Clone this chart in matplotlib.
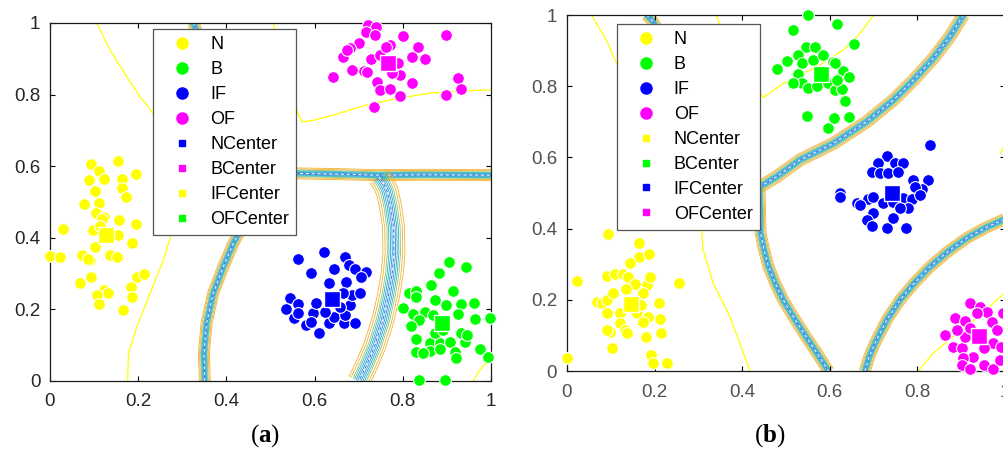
import matplotlib
matplotlib.use("Agg")
import matplotlib.pyplot as plt
import numpy as np
from matplotlib.lines import Line2D

plt.rcParams['font.family'] = ['Liberation Sans', 'DejaVu Sans']
plt.rcParams['mathtext.fontset'] = 'custom'
plt.rcParams['mathtext.rm'] = 'Liberation Serif'
plt.rcParams['mathtext.bf'] = 'Liberation Serif:bold'

YEL, GRN, BLU, MAG = '#FFFF00', '#00FF00', '#0000FF', '#FF00FF'

# ---------------- panel (a) data ----------------
a_N_x = [0.093, 0.155, 0.110, 0.089, 0.123, 0.195, 0.163, 0.102, 0.163, 0.172, 0.078, 0.110, 0.104, 0.123,
         0.117, 0.157, 0.098, 0.113, 0.195, 0.029, 0.155, 0.187, 0.102, 0.136, 0.151, 0.000, 0.023, 0.072,
         0.091, 0.197, 0.213, 0.094, 0.067, 0.184, 0.123, 0.132, 0.106, 0.185, 0.110, 0.165, 0.087]
a_N_y = [0.605, 0.615, 0.587, 0.561, 0.564, 0.578, 0.564, 0.532, 0.538, 0.515, 0.493, 0.498, 0.468, 0.459,
         0.452, 0.450, 0.422, 0.433, 0.439, 0.424, 0.408, 0.385, 0.373, 0.352, 0.345, 0.350, 0.347, 0.352,
         0.338, 0.290, 0.299, 0.291, 0.273, 0.262, 0.254, 0.247, 0.240, 0.234, 0.215, 0.198, 0.340]
a_B_x = [0.905, 0.943, 0.883, 0.865, 0.913, 0.815, 0.831, 0.830, 0.873, 0.899, 0.933, 0.961, 0.801, 0.824,
         0.850, 0.837, 0.818, 0.869, 0.926, 0.964, 0.998, 0.830, 0.862, 0.884, 0.907, 0.941, 0.931, 0.945,
         0.831, 0.862, 0.884, 0.918, 0.921, 0.975, 0.994, 0.837, 0.896, 0.873, 0.892, 0.847]
a_B_y = [0.331, 0.319, 0.301, 0.268, 0.252, 0.247, 0.252, 0.236, 0.226, 0.212, 0.215, 0.219, 0.203, 0.187,
         0.194, 0.169, 0.154, 0.184, 0.187, 0.172, 0.175, 0.116, 0.105, 0.107, 0.110, 0.110, 0.133, 0.128,
         0.082, 0.085, 0.088, 0.082, 0.063, 0.088, 0.066, 0.003, 0.003, 0.133, 0.142, 0.077]
a_IF_x = [0.563, 0.621, 0.669, 0.591, 0.644, 0.679, 0.692, 0.717, 0.705, 0.633, 0.671, 0.544, 0.563, 0.535,
          0.553, 0.562, 0.580, 0.596, 0.603, 0.591, 0.611, 0.633, 0.644, 0.667, 0.692, 0.669, 0.680, 0.686,
          0.703, 0.665, 0.658, 0.624]
a_IF_y = [0.340, 0.361, 0.347, 0.301, 0.312, 0.324, 0.312, 0.304, 0.290, 0.273, 0.277, 0.233, 0.215, 0.200,
          0.175, 0.189, 0.156, 0.191, 0.219, 0.166, 0.133, 0.161, 0.180, 0.163, 0.161, 0.184, 0.212, 0.240,
          0.245, 0.245, 0.208, 0.194]
a_OF_x = [0.722, 0.739, 0.717, 0.737, 0.701, 0.680, 0.665, 0.686, 0.711, 0.718, 0.729, 0.748, 0.771, 0.801,
          0.835, 0.850, 0.820, 0.790, 0.794, 0.741, 0.748, 0.771, 0.794, 0.822, 0.641, 0.735, 0.897, 0.926,
          0.933, 0.898, 0.673, 0.775, 0.763]
a_OF_y = [0.995, 0.990, 0.976, 0.966, 0.943, 0.929, 0.904, 0.869, 0.867, 0.864, 0.899, 0.911, 0.939, 0.964,
          0.934, 0.899, 0.904, 0.887, 0.855, 0.836, 0.813, 0.817, 0.796, 0.831, 0.850, 0.766, 0.966, 0.845,
          0.815, 0.799, 0.925, 0.859, 0.934]
a_cx = [0.127, 0.890, 0.639, 0.766]
a_cy = [0.408, 0.163, 0.228, 0.888]

# decision boundaries of panel (a)
a_band1_x = [0.351, 0.349, 0.355, 0.370, 0.393, 0.416, 0.440, 0.480, 0.520, 0.556, 0.650, 0.740, 0.850, 1.000]
a_band1_y = [0.000, 0.077, 0.161, 0.245, 0.319, 0.385, 0.440, 0.520, 0.570, 0.580, 0.578, 0.575, 0.576, 0.575]
a_band2_x = [0.325, 0.335, 0.380, 0.450, 0.500]
a_band2_y = [1.000, 0.970, 0.800, 0.650, 0.590]
a_band3_x = [0.746, 0.756, 0.765, 0.772, 0.779, 0.780, 0.776, 0.768, 0.755, 0.737, 0.720, 0.701]
a_band3_y = [0.570, 0.553, 0.528, 0.490, 0.430, 0.357, 0.300, 0.240, 0.170, 0.100, 0.050, 0.000]
a_thin1_x = [0.106, 0.136, 0.174, 0.204, 0.234, 0.250, 0.280, 0.276, 0.257, 0.227, 0.197, 0.178, 0.176]
a_thin1_y = [1.000, 0.925, 0.850, 0.794, 0.748, 0.650, 0.500, 0.412, 0.338, 0.245, 0.152, 0.077, 0.000]
a_thin2_x = [0.506, 0.510, 0.520, 0.545, 0.556, 0.571, 0.593, 0.643, 0.718, 0.794, 0.869, 0.945, 1.000]
a_thin2_y = [1.000, 0.980, 0.900, 0.800, 0.766, 0.724, 0.727, 0.743, 0.771, 0.791, 0.805, 0.811, 0.813]
a_thin3_x = [0.960, 0.975, 0.998]
a_thin3_y = [0.000, 0.031, 0.063]

# ---------------- panel (b) data ----------------
b_N_x = [0.093, 0.165, 0.165, 0.188, 0.144, 0.022, 0.256, 0.091, 0.110, 0.127, 0.140, 0.155, 0.182, 0.189,
         0.068, 0.079, 0.091, 0.106, 0.135, 0.174, 0.211, 0.091, 0.121, 0.159, 0.186, 0.212, 0.121, 0.132,
         0.098, 0.091, 0.136, 0.174, 0.180, 0.215, 0.102, 0.192, 0.196, 0.228, 0.000, 0.170]
b_N_y = [0.384, 0.359, 0.319, 0.329, 0.304, 0.254, 0.248, 0.267, 0.272, 0.272, 0.265, 0.244, 0.242, 0.265,
         0.195, 0.190, 0.199, 0.220, 0.229, 0.218, 0.190, 0.162, 0.162, 0.162, 0.153, 0.145, 0.136, 0.115,
         0.110, 0.115, 0.108, 0.139, 0.096, 0.108, 0.066, 0.045, 0.023, 0.022, 0.037, 0.185]
b_B_x = [0.551, 0.616, 0.517, 0.656, 0.546, 0.566, 0.528, 0.503, 0.479, 0.536, 0.562, 0.584, 0.607, 0.631,
         0.645, 0.528, 0.536, 0.551, 0.570, 0.597, 0.612, 0.629, 0.635, 0.549, 0.610, 0.645, 0.597, 0.612,
         0.517, 0.616]
b_B_y = [1.000, 0.975, 0.958, 0.918, 0.909, 0.911, 0.888, 0.872, 0.847, 0.864, 0.875, 0.888, 0.869, 0.844,
         0.825, 0.834, 0.810, 0.794, 0.801, 0.810, 0.789, 0.791, 0.759, 0.716, 0.710, 0.714, 0.682, 0.864,
         0.808, 0.817]
b_IF_x = [0.829, 0.730, 0.711, 0.749, 0.768, 0.696, 0.715, 0.734, 0.756, 0.791, 0.825, 0.623, 0.623, 0.688,
          0.661, 0.669, 0.699, 0.722, 0.745, 0.768, 0.787, 0.810, 0.795, 0.807, 0.699, 0.684, 0.696, 0.730,
          0.744, 0.773, 0.779, 0.760]
b_IF_y = [0.635, 0.604, 0.585, 0.583, 0.585, 0.560, 0.557, 0.557, 0.560, 0.537, 0.537, 0.499, 0.488, 0.482,
          0.471, 0.466, 0.490, 0.473, 0.476, 0.485, 0.482, 0.510, 0.518, 0.494, 0.445, 0.424, 0.407, 0.401,
          0.429, 0.403, 0.457, 0.457]
b_OF_x = [0.920, 0.943, 0.958, 0.996, 0.886, 0.909, 0.935, 0.863, 0.882, 0.901, 0.909, 0.970, 0.981, 0.973,
          0.951, 0.928, 0.905, 0.901, 0.920, 0.951, 0.972, 0.989, 0.992, 0.890, 0.920]
b_OF_y = [0.190, 0.181, 0.167, 0.162, 0.148, 0.141, 0.162, 0.101, 0.068, 0.064, 0.096, 0.139, 0.115, 0.078,
          0.064, 0.040, 0.036, 0.017, 0.005, 0.017, 0.007, 0.031, 0.068, 0.115, 0.120]
b_cx = [0.146, 0.581, 0.741, 0.941]
b_cy = [0.188, 0.834, 0.501, 0.098]

# decision boundaries of panel (b)
b_band1_x = [0.905, 0.874, 0.836, 0.791, 0.745, 0.684, 0.608, 0.532, 0.479, 0.441, 0.400]
b_band1_y = [1.000, 0.939, 0.878, 0.817, 0.761, 0.700, 0.639, 0.593, 0.546, 0.518, 0.505]
b_band2_x = [0.439, 0.440, 0.442, 0.450, 0.460, 0.476, 0.494, 0.518, 0.546, 0.572, 0.597]
b_band2_y = [0.515, 0.490, 0.387, 0.340, 0.293, 0.245, 0.199, 0.150, 0.096, 0.048, 0.000]
b_band3_x = [0.182, 0.197, 0.220, 0.300, 0.400]
b_band3_y = [1.000, 0.981, 0.930, 0.700, 0.510]
b_band4_x = [0.680, 0.690, 0.703, 0.730, 0.760, 0.795, 0.829, 0.870, 0.912, 0.955, 0.998]
b_band4_y = [0.000, 0.040, 0.078, 0.143, 0.199, 0.250, 0.293, 0.336, 0.373, 0.402, 0.426]
b_thin1_x = [0.056, 0.090, 0.113, 0.200, 0.300, 0.307, 0.311, 0.334, 0.372, 0.400, 0.418]
b_thin1_y = [1.000, 0.930, 0.864, 0.700, 0.450, 0.396, 0.340, 0.246, 0.153, 0.060, 0.000]
b_thin2_x = [0.342, 0.349, 0.400, 0.430, 0.437, 0.448, 0.494, 0.532, 0.578, 0.631, 0.669, 0.700]
b_thin2_y = [1.000, 0.972, 0.880, 0.800, 0.794, 0.768, 0.808, 0.831, 0.860, 0.902, 0.948, 1.000]
b_thin3_x = [0.802, 0.836, 0.890, 0.935, 0.998]
b_thin3_y = [0.000, 0.050, 0.106, 0.148, 0.218]
b_thin4_x = [0.990, 1.000]
b_thin4_y = [0.612, 0.640]

labels = ['N', 'B', 'IF', 'OF', 'NCenter', 'BCenter', 'IFCenter', 'OFCenter']
a_legend_colors = [YEL, GRN, BLU, MAG, BLU, MAG, YEL, GRN]
b_legend_colors = [YEL, GRN, BLU, MAG, YEL, GRN, BLU, MAG]

band_offsets = [1.0, 0.8, 0.6, 0.45, 0.3, 0.15]
band_colors = ['#F2B134', '#F2B134', '#93C46A', '#35B8C0', '#21A6CC', '#2C90D6']


def offset(ax, xs, ys, d):
    pts = ax.transData.transform(np.column_stack([xs, ys]))
    t = np.gradient(pts, axis=0)
    n = np.column_stack([-t[:, 1], t[:, 0]])
    n /= np.linalg.norm(n, axis=1)[:, None]
    return ax.transData.inverted().transform(pts + d * n)


def band(ax, xs, ys, half):
    for f, c in zip(band_offsets, band_colors):
        for s in (1, -1):
            p = offset(ax, xs, ys, s * f * half)
            ax.plot(p[:, 0], p[:, 1], color=c, lw=0.6, zorder=1)
    ax.plot(xs, ys, color='#2C86D6', lw=0.8, zorder=1)
    ax.plot(xs, ys, color='white', lw=0.7, ls=(0, (3, 3)), zorder=1)


def thin(ax, xs, ys):
    ax.plot(xs, ys, color=YEL, lw=0.9, zorder=1)


def setup(ax, tickcolor):
    ax.set_xlim(0, 1)
    ax.set_ylim(0, 1)
    ax.set_xticks([0, 0.2, 0.4, 0.6, 0.8, 1])
    ax.set_yticks([0, 0.2, 0.4, 0.6, 0.8, 1])
    ax.set_xticklabels(['0', '0.2', '0.4', '0.6', '0.8', '1'])
    ax.set_yticklabels(['0', '0.2', '0.4', '0.6', '0.8', '1'])
    ax.tick_params(direction='in', top=True, right=True, length=3.6, width=0.8,
                   labelsize=13.5, labelcolor=tickcolor)
    ax.tick_params(axis='x', pad=9)
    ax.tick_params(axis='y', pad=7)
    for sp in ax.spines.values():
        sp.set_linewidth(0.9)
        sp.set_color('#1a1a1a')


def clusters(ax, groups, cx, cy, colors):
    for (xs, ys), c in zip(groups, colors):
        ax.scatter(xs, ys, s=72, c=c, edgecolors='white', linewidths=0.8, zorder=3, clip_on=False)
    for x, y, c in zip(cx, cy, colors):
        ax.scatter([x], [y], s=125, marker='s', c=c, edgecolors='white', linewidths=1.0, zorder=4, clip_on=False)


def legend(ax, colors, anchor):
    handles = []
    for i, (lab, c) in enumerate(zip(labels, colors)):
        if i < 4:
            handles.append(Line2D([], [], ls='none', marker='o', ms=8, mfc=c, mec=c, label=lab))
        else:
            handles.append(Line2D([], [], ls='none', marker='s', ms=4.3, mfc=c, mec=c, label=lab))
    lg = ax.legend(handles=handles, loc='upper left', bbox_to_anchor=anchor, borderaxespad=0,
                   fontsize=13, handlelength=2.4, handletextpad=0.35, borderpad=0.4,
                   labelspacing=0.44, fancybox=False, framealpha=1, edgecolor='#555555')
    lg.get_frame().set_linewidth(0.9)
    lg.set_zorder(6)


fig = plt.figure(figsize=(10.04, 4.75), dpi=100)
ax1 = fig.add_axes([0.0498, 0.1979, 0.4392, 0.7537])
ax2 = fig.add_axes([0.5647, 0.2189, 0.4363, 0.7495])
setup(ax1, '#262626')
setup(ax2, '#505050')

# panel (a)
band(ax1, a_band1_x, a_band1_y, 5.5)
band(ax1, a_band2_x, a_band2_y, 5.5)
band(ax1, a_band3_x, a_band3_y, 11)
thin(ax1, a_thin1_x, a_thin1_y)
thin(ax1, a_thin2_x, a_thin2_y)
thin(ax1, a_thin3_x, a_thin3_y)
clusters(ax1, [(a_N_x, a_N_y), (a_B_x, a_B_y), (a_IF_x, a_IF_y), (a_OF_x, a_OF_y)],
         a_cx, a_cy, [YEL, GRN, BLU, MAG])
legend(ax1, a_legend_colors, (0.234, 0.983))

# panel (b)
band(ax2, b_band1_x, b_band1_y, 6)
band(ax2, b_band2_x, b_band2_y, 5.5)
band(ax2, b_band3_x, b_band3_y, 5.5)
band(ax2, b_band4_x, b_band4_y, 5.5)
thin(ax2, b_thin1_x, b_thin1_y)
thin(ax2, b_thin2_x, b_thin2_y)
thin(ax2, b_thin3_x, b_thin3_y)
thin(ax2, b_thin4_x, b_thin4_y)
clusters(ax2, [(b_N_x, b_N_y), (b_B_x, b_B_y), (b_IF_x, b_IF_y), (b_OF_x, b_OF_y)],
         b_cx, b_cy, [YEL, GRN, BLU, MAG])
legend(ax2, b_legend_colors, (0.114, 0.975))

fig.text(0.264, 0.082, r'($\mathbf{a}$)', ha='center', va='center', fontsize=18,
         family='Liberation Serif')
fig.text(0.767, 0.082, r'($\mathbf{b}$)', ha='center', va='center', fontsize=18,
         family='Liberation Serif')

fig.savefig('out.png', dpi=100)
